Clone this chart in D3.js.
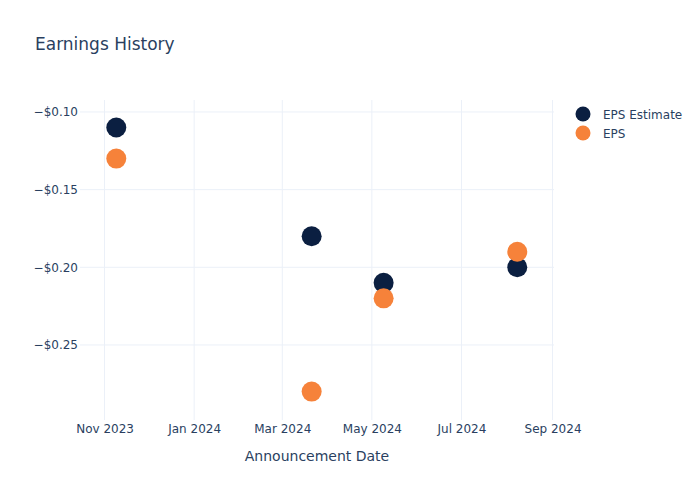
<!DOCTYPE html>
<html>
<head>
<meta charset="utf-8">
<script src="https://cdn.jsdelivr.net/npm/d3@7"></script>
<style>
  body { margin: 0; background: #fff; }
  text { font-family: "DejaVu Sans", Verdana, sans-serif; }
</style>
</head>
<body>
<div id="chart"></div>
<script>
// Data
const dates = ["2023-11-09", "2024-03-21", "2024-05-09", "2024-08-08"];
const epsEstimate = [-0.11, -0.18, -0.21, -0.20];
const eps = [-0.13, -0.28, -0.22, -0.19];
const yTicks = [-0.10, -0.15, -0.20, -0.25];
const xTicks = ["2023-11-01", "2024-01-01", "2024-03-01", "2024-05-01", "2024-07-01", "2024-09-01"];
const seriesNames = ["EPS Estimate", "EPS"];
const colors = ["#0b1f41", "#f6823a"];

const W = 700, H = 500;
const margin = { top: 100, right: 146, bottom: 80, left: 80 };
const width = W - margin.left - margin.right;
const height = H - margin.top - margin.bottom;
const parse = d3.timeParse("%Y-%m-%d");

const svg = d3.select("#chart")
  .append("svg")
  .attr("width", W)
  .attr("height", H);

const g = svg.append("g")
  .attr("transform", `translate(${margin.left},${margin.top})`);

const x = d3.scaleTime()
  .domain([new Date(2023, 9, 15, 7), new Date(2024, 8, 2, 0)])
  .range([0, width]);

const y = d3.scaleLinear()
  .domain([-0.2983, -0.0923])
  .range([height, 0]);

// Grid lines
g.append("g")
  .selectAll("line")
  .data(xTicks.map(parse))
  .enter()
  .append("line")
  .attr("x1", (d) => x(d))
  .attr("x2", (d) => x(d))
  .attr("y1", 0)
  .attr("y2", height)
  .attr("stroke", "#ebf0f8")
  .attr("stroke-width", 1);

g.append("g")
  .selectAll("line")
  .data(yTicks)
  .enter()
  .append("line")
  .attr("x1", 0)
  .attr("x2", width)
  .attr("y1", (d) => y(d))
  .attr("y2", (d) => y(d))
  .attr("stroke", "#ebf0f8")
  .attr("stroke-width", 1);

// Axes
const fmtY = (d) => "\u2212$" + Math.abs(d).toFixed(2);
const yAxis = g.append("g")
  .call(d3.axisLeft(y).tickValues(yTicks).tickFormat(fmtY).tickSize(0).tickPadding(2));
yAxis.select(".domain").remove();
yAxis.selectAll("text").attr("fill", "#2a3f5f").style("font-size", "12px");

const xAxis = g.append("g")
  .attr("transform", `translate(0, ${height})`)
  .call(d3.axisBottom(x).tickValues(xTicks.map(parse)).tickFormat(d3.timeFormat("%b %Y")).tickSize(0).tickPadding(4));
xAxis.select(".domain").remove();
xAxis.selectAll("text").attr("fill", "#2a3f5f").style("font-size", "12px");

// Axis title
svg.append("text")
  .attr("x", margin.left + width / 2)
  .attr("y", 461)
  .attr("text-anchor", "middle")
  .attr("fill", "#2a3f5f")
  .style("font-size", "14px")
  .text("Announcement Date");

// Title
svg.append("text")
  .attr("x", 35)
  .attr("y", 50)
  .attr("fill", "#2a3f5f")
  .style("font-size", "17px")
  .text("Earnings History");

// Points
const series = [epsEstimate, eps];
series.forEach((vals, i) => {
  g.append("g")
    .selectAll("circle")
    .data(vals.map((v, j) => ({ date: parse(dates[j]), value: v })))
    .enter()
    .append("circle")
    .attr("cx", (d) => x(d.date))
    .attr("cy", (d) => y(d.value))
    .attr("r", 10)
    .attr("fill", colors[i]);
});

// Legend
const legend = svg.append("g").attr("transform", "translate(583, 114)");
seriesNames.forEach((name, i) => {
  const row = legend.append("g").attr("transform", `translate(0, ${i * 19})`);
  row.append("circle").attr("r", 7.5).attr("fill", colors[i]);
  row.append("text")
    .attr("x", 20)
    .attr("y", 4.5)
    .attr("fill", "#2a3f5f")
    .style("font-size", "12px")
    .text(name);
});
</script>
</body>
</html>
